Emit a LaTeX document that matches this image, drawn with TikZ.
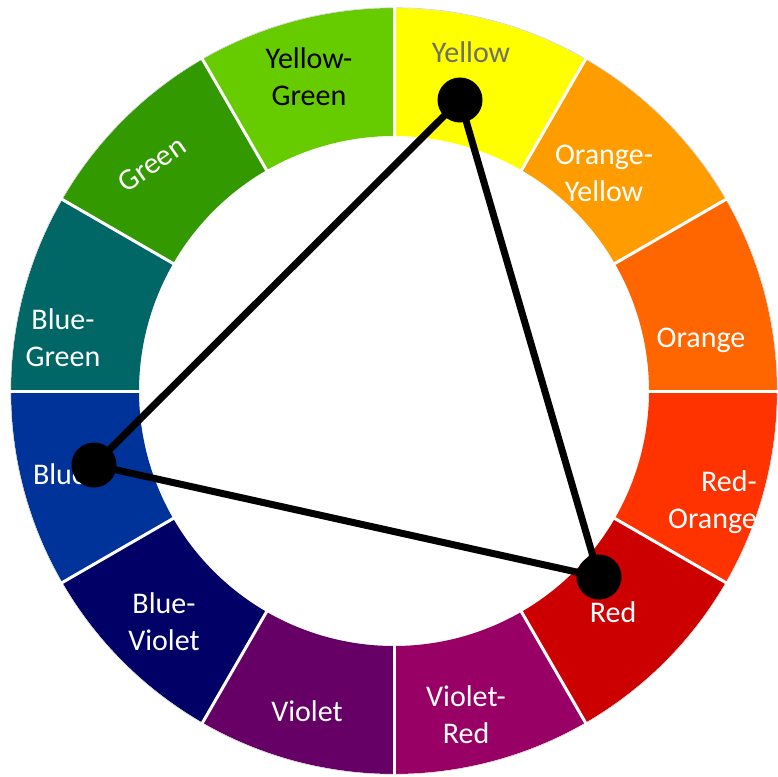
\documentclass[tikz,border=0pt]{standalone}
\usepackage{fontspec}
\setmainfont{Carlito}
\definecolor{cYellow}{HTML}{FFFF00}
\definecolor{cOrangeYellow}{HTML}{FF9C00}
\definecolor{cOrange}{HTML}{FF6600}
\definecolor{cRedOrange}{HTML}{FF3300}
\definecolor{cRed}{HTML}{CC0000}
\definecolor{cVioletRed}{HTML}{990066}
\definecolor{cViolet}{HTML}{660066}
\definecolor{cBlueViolet}{HTML}{000066}
\definecolor{cBlue}{HTML}{003399}
\definecolor{cBlueGreen}{HTML}{006666}
\definecolor{cGreen}{HTML}{339900}
\definecolor{cYellowGreen}{HTML}{66CC00}
\definecolor{labelgray}{RGB}{112,112,100}
\tikzset{
  lbl/.style={font=\fontsize{30}{37}\selectfont, text=white, align=center, inner sep=0pt},
  dot/.style={circle, fill=black, minimum size=45, inner sep=0pt},
  tri/.style={line width=7, black},
  gap/.style={white, line width=3}
}
\newcommand{\sector}[2]{%
  \fill[#2] (#1:383) arc[start angle=#1, end angle=#1+30, radius=383]
    -- (#1+30:255) arc[start angle=#1+30, end angle=#1, radius=255] -- cycle;}
\begin{document}
\begin{tikzpicture}[x=1pt,y=1pt]
\useasboundingbox (0,0) rectangle (778,-776);
\fill[white] (0,0) rectangle (778,-776);
\begin{scope}[shift={(394,-391)}]
  \sector{0}{cOrange}
  \sector{30}{cOrangeYellow}
  \sector{60}{cYellow}
  \sector{90}{cYellowGreen}
  \sector{120}{cGreen}
  \sector{150}{cBlueGreen}
  \sector{180}{cBlue}
  \sector{210}{cBlueViolet}
  \sector{240}{cViolet}
  \sector{270}{cVioletRed}
  \sector{300}{cRed}
  \sector{330}{cRedOrange}
  \draw[gray!35, line width=0.6] (0,0) circle[radius=383.3];
  \foreach \a in {0,30,...,330} {
    \draw[gap] (\a:250) -- (\a:386);
  }
\end{scope}
% labels
\node[lbl, text=labelgray] (lYellow) at (471,-52) {Yellow};
\node[lbl] (lOrangeYellow) at (604,-173) {Orange-\\Yellow};
\node[lbl] (lOrange) at (701,-340) {Orange};
\node[lbl, align=right, anchor=east] (lRedOrange) at (757,-502) {Red-\\Orange};
\node[lbl] (lRed) at (613,-612) {Red};
\node[lbl] (lVioletRed) at (466,-715) {Violet-\\Red};
\node[lbl] (lViolet) at (307,-711) {Violet};
\node[lbl] (lBlueViolet) at (164,-622) {Blue-\\Violet};
\node[lbl] (lBlue) at (60,-474) {Blue};
\node[lbl] (lBlueGreen) at (63,-338) {Blue-\\Green};
\node[lbl, rotate=35] (lGreen) at (152,-164) {Green};
\node[lbl, text=black] (lYellowGreen) at (309,-77) {Yellow-\\Green};
% triangle
\coordinate (cY) at (460,-100);
\coordinate (cB) at (94,-465);
\coordinate (cR) at (599,-577);
\draw[tri] (cY) -- (cB);
\draw[tri] (cB) -- (cR);
\draw[tri] (cR) -- (cY);
\node[dot] (Y) at (cY) {};
\node[dot] (B) at (cB) {};
\node[dot] (R) at (cR) {};
\end{tikzpicture}
\end{document}
